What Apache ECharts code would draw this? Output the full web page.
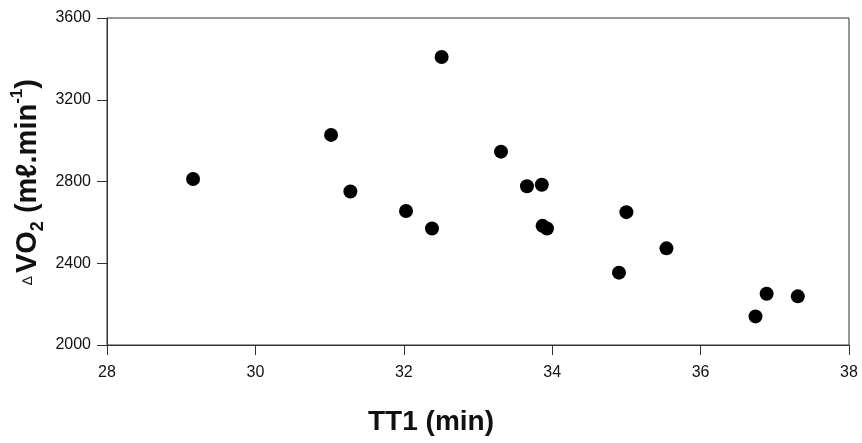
<!DOCTYPE html>
<html>
<head>
<meta charset="utf-8">
<script src="https://cdn.jsdelivr.net/npm/echarts@6/dist/echarts.min.js"></script>
<style>
html,body{margin:0;padding:0;background:#fff;}
#c{width:862px;height:443px;}
</style>
</head>
<body>
<div id="c"></div>
<script>
// Data
var tt1 = [29.16, 31.02, 31.28, 32.03, 32.38, 32.51, 33.31, 33.66, 33.86, 33.87, 33.93, 35.00, 34.90, 35.54, 36.89, 36.74, 37.31];
var dvo2 = [2812, 3028, 2751, 2656, 2570, 3409, 2946, 2777, 2784, 2583, 2570, 2650, 2354, 2473, 2251, 2140, 2238];
var xTicks = [28, 30, 32, 34, 36, 38];
var yTicks = [2000, 2400, 2800, 3200, 3600];
var xTitle = 'TT1 (min)';

var points = tt1.map(function (x, i) { return [x, dvo2[i]]; });
var FONT = "'Liberation Sans', Arial, sans-serif";
var INK = '#111';

var chart = echarts.init(document.getElementById('c'), null, {renderer: 'canvas'});
chart.setOption({
  backgroundColor: '#fff',
  animation: false,
  grid: {
    left: 107, right: 13, top: 18, bottom: 98,
    show: true, borderColor: '#333', borderWidth: 1, backgroundColor: 'transparent'
  },
  xAxis: {
    type: 'value',
    min: xTicks[0], max: xTicks[xTicks.length - 1], interval: 2,
    axisLine: {show: true, lineStyle: {color: '#333', width: 1}},
    axisTick: {show: true, inside: false, length: 10, lineStyle: {color: '#333'}},
    axisLabel: {margin: 20, fontSize: 16, color: INK, fontFamily: FONT,
      formatter: function (v) { return String(v); }},
    splitLine: {show: false}
  },
  yAxis: {
    type: 'value',
    min: yTicks[0], max: yTicks[yTicks.length - 1], interval: 400,
    axisLine: {show: true, lineStyle: {color: '#333', width: 1}},
    axisTick: {show: true, inside: false, length: 10, lineStyle: {color: '#333'}},
    axisLabel: {margin: 16, fontSize: 16, color: INK, fontFamily: FONT,
      formatter: function (v) { return String(v); }},
    splitLine: {show: false}
  },
  series: [{
    type: 'scatter',
    data: points,
    symbol: 'circle',
    symbolSize: 14,
    itemStyle: {color: '#000', opacity: 1}
  }],
  graphic: [
    {
      type: 'text',
      x: 431, y: 422,
      style: {
        text: xTitle,
        font: 'bold 28px ' + FONT,
        fill: INK,
        textAlign: 'center',
        textVerticalAlign: 'middle'
      }
    },
    {
      type: 'text',
      x: 28, y: 182,
      rotation: Math.PI / 2,
      style: {
        text: '{t|\u2206} {m|VO}{s|2}{m| (m\u2113.min}{p|-1}{m|)}',
        fill: INK,
        textAlign: 'center',
        textVerticalAlign: 'middle',
        rich: {
          t: {fontSize: 14, fontFamily: FONT, fill: INK, lineHeight: 38},
          m: {fontSize: 29, fontWeight: 'bold', fontFamily: FONT, fill: INK, lineHeight: 38},
          s: {fontSize: 18, fontWeight: 'bold', fontFamily: FONT, fill: INK, lineHeight: 38, verticalAlign: 'bottom'},
          p: {fontSize: 17, fontWeight: 'bold', fontFamily: FONT, fill: INK, lineHeight: 38, verticalAlign: 'top'}
        }
      }
    }
  ]
});
</script>
</body>
</html>
